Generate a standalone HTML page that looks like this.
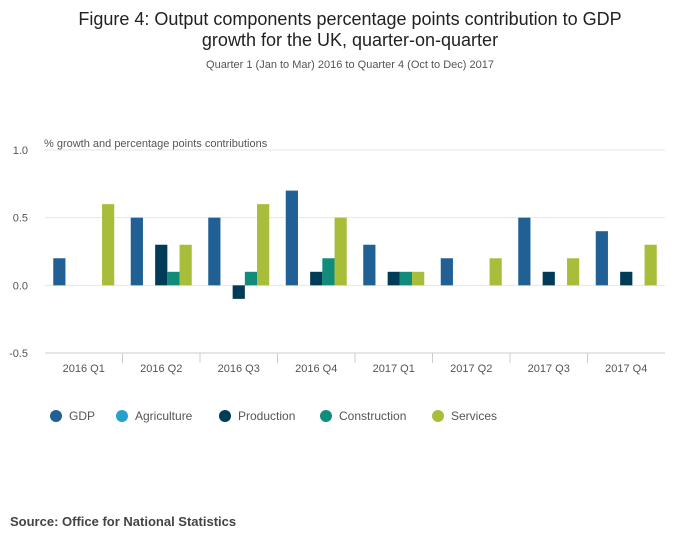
<!DOCTYPE html>
<html><head><meta charset="utf-8"><style>
body{margin:0;background:#fff;font-family:"Liberation Sans",sans-serif;}
</style></head><body>
<svg width="700" height="549" xmlns="http://www.w3.org/2000/svg" id="svg" font-family="Liberation Sans, sans-serif">
<text x="350" y="25" text-anchor="middle" font-size="18" fill="#222">Figure 4: Output components percentage points contribution to GDP</text>
<text x="350" y="46" text-anchor="middle" font-size="18" fill="#222">growth for the UK, quarter-on-quarter</text>
<text x="350" y="68" text-anchor="middle" font-size="11" fill="#555">Quarter 1 (Jan to Mar) 2016 to Quarter 4 (Oct to Dec) 2017</text>
<text x="44" y="147" font-size="11" fill="#555">% growth and percentage points contributions</text>
<g id="grid"></g><g id="bars"></g><g id="axis"></g><g id="legend"></g>
<text x="10" y="526" font-size="13" font-weight="bold" fill="#444">Source: Office for National Statistics</text>
</svg>
<script>
const categories=["2016 Q1","2016 Q2","2016 Q3","2016 Q4","2017 Q1","2017 Q2","2017 Q3","2017 Q4"];
const seriesNames=["GDP","Agriculture","Production","Construction","Services"];
const gdp=[0.2,0.5,0.5,0.7,0.3,0.2,0.5,0.4];
const agriculture=[0,0,0,0,0,0,0,0];
const production=[0,0.3,-0.1,0.1,0.1,0,0.1,0.1];
const construction=[0,0.1,0.1,0.2,0.1,0,0,0];
const services=[0.6,0.3,0.6,0.5,0.1,0.2,0.2,0.3];
const yTicks=[1.0,0.5,0.0,-0.5];
const yTickLabels=["1.0","0.5","0.0","-0.5"];
const colors=["#206095","#27a0cc","#003c57","#118c7b","#a8bd3a"];
const series=[gdp,agriculture,production,construction,services];
const NS="http://www.w3.org/2000/svg";
const x0=45,x1=665,y0=150,y1=353,vmin=-0.5,vmax=1.0;
const y=v=>y1-(v-vmin)/(vmax-vmin)*(y1-y0);
const band=(x1-x0)/categories.length, bw=12.2, pad=(band-bw*5)/2;
function mk(t,a,p){const e=document.createElementNS(NS,t);for(const k in a)e.setAttribute(k,a[k]);p.appendChild(e);return e;}
const grid=document.getElementById('grid'),bars=document.getElementById('bars'),axis=document.getElementById('axis'),legend=document.getElementById('legend');
yTicks.forEach((t,i)=>{
 const l=mk('line',{x1:x0,x2:x1,y1:y(t),y2:y(t),stroke:i==3?'#ccc':'#e6e6e6'},grid);
 
 
 const tx=mk('text',{x:28,y:y(t)+4,'text-anchor':'end','font-size':11,fill:'#555'},axis);
 tx.textContent=yTickLabels[i];
 
 
});
categories.forEach((c,i)=>{
 const cx=x0+band*i;
 if(i>0){const tk=mk('line',{x1:cx,x2:cx,y1:y1,y2:y1+10,stroke:'#ccc'},axis);
 
 }
 const tx=mk('text',{x:cx+band/2,y:y1+19,'text-anchor':'middle','font-size':11,fill:'#555'},axis);
 tx.textContent=c;
 
 
 series.forEach((s,j)=>{
  const v=s[i]; if(v===0)return;
  const r=mk('rect',{x:cx+pad+bw*j,y:Math.min(y(v),y(0)),width:bw,height:Math.abs(y(v)-y(0)),fill:colors[j]},bars);
  
  
 });
});
const lx=[56,122,225,326,438];
seriesNames.forEach((n,j)=>{
 const g=mk('g',{},legend);
 
 
 mk('circle',{cx:lx[j],cy:416,r:6,fill:colors[j]},g);
 const t=mk('text',{x:lx[j]+13,y:420,'font-size':12,fill:'#555'},g);t.textContent=n;
});
</script>
</body></html>
